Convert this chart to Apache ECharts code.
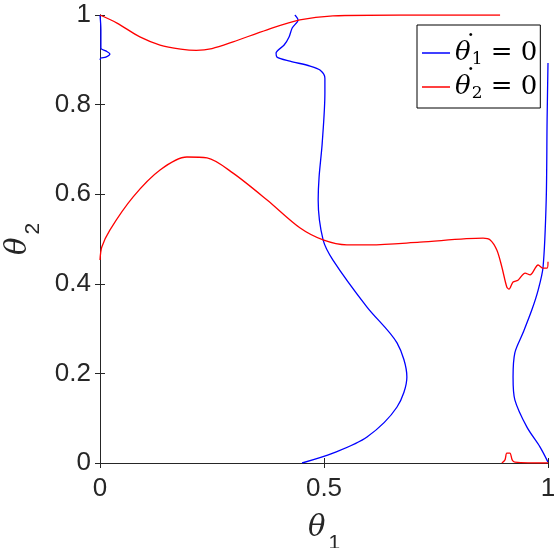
<!DOCTYPE html>
<html>
<head>
<meta charset="utf-8">
<script src="https://cdn.jsdelivr.net/npm/echarts@6/dist/echarts.min.js"></script>
<style>
  html, body { margin: 0; padding: 0; background: #fff; }
  #chart { width: 556px; height: 548px; }
</style>
</head>
<body>
<div id="chart"></div>
<script>
// nullcline curves, [theta1, theta2] pairs
var blueMain = [[0.435,1.0],[0.442,0.989],[0.429,0.971],[0.422,0.951],[0.411,0.933],[0.393,0.915],
  [0.395,0.906],[0.424,0.897],[0.469,0.886],[0.491,0.877],[0.502,0.859],[0.502,0.826],[0.496,0.714],
  [0.489,0.638],[0.487,0.587],[0.498,0.498],[0.520,0.453],[0.596,0.348],[0.663,0.268],[0.685,0.192],
  [0.663,0.125],[0.596,0.058],[0.520,0.022],[0.451,0]];
var blueRight = [[1.0,0.893],[0.998,0.766],[0.996,0.587],[0.989,0.4375],[0.978,0.386],[0.964,0.342],
  [0.944,0.290],[0.926,0.246],[0.922,0.192],[0.926,0.141],[0.953,0.080],[0.982,0.036],[1.0,0.002]];
var blueLeft = [[0,1],[0.002,0.967],[0.002,0.926],[0.013,0.92],[0.022,0.913],[0.013,0.906],[0.002,0.904],[0,0.9]];

var redTop = [[0,1],[0.038,0.982],[0.089,0.951],[0.134,0.933],[0.180,0.924],[0.215,0.921],[0.250,0.925],[0.297,0.940],
  [0.373,0.967],[0.446,0.989],[0.520,0.998],[0.670,1.0],[0.893,1.0]];
var redMain = [[0,0.453],[0.004,0.482],[0.022,0.520],[0.074,0.594],[0.134,0.654],[0.194,0.683],[0.239,0.681],
  [0.297,0.647],[0.373,0.587],[0.446,0.525],[0.498,0.498],[0.551,0.487],[0.603,0.487],[0.714,0.493],
  [0.855,0.502],[0.871,0.498],[0.886,0.475],[0.897,0.4375],[0.908,0.393],[0.913,0.388],[0.922,0.404],
  [0.933,0.408],[0.949,0.424],[0.960,0.420],[0.978,0.442],[0.989,0.435],[0.998,0.435],[1.0,0.449]];
var redBottom = [[0.897,0],[0.904,0.007],[0.908,0.022],[0.915,0.022],[0.920,0.007],[0.926,0.002],[1.0,0]];

var names = ['{t|θ}{d|˙}{s|1}{e| = 0}', '{t|θ}{d|˙}{s|2}{e| = 0}'];
var axisColor = '#262626';

function curve(name, color, data) {
  return {
    name: name, type: 'line', data: data, symbol: 'none', smooth: 0.3,
    lineStyle: { color: color, width: 1.3 }, itemStyle: { color: color },
    clip: true, animation: false
  };
}

var frameAxis = {
  type: 'value', min: 0, max: 1,
  axisLine: { show: true, lineStyle: { color: axisColor, width: 1 } },
  axisTick: { show: true, inside: true, length: 5, lineStyle: { color: axisColor } },
  splitLine: { show: false }
};

var nameRich = {
  t: { fontFamily: 'DejaVu Serif', fontStyle: 'italic', fontSize: 29, color: axisColor },
  s: { fontFamily: 'Liberation Sans', fontSize: 21, color: axisColor, padding: [30, 0, 0, 3] }
};

var chart = echarts.init(document.getElementById('chart'));
chart.setOption({
  animation: false,
  grid: { left: 100, top: 15, right: 8, bottom: 85, outerBoundsMode: 'none', containLabel: false },
  xAxis: [
    Object.assign({}, frameAxis, {
      position: 'bottom', interval: 0.5,
      axisLabel: { color: axisColor, fontSize: 26, fontFamily: 'Liberation Sans', margin: 13 },
      name: '{t|θ}{s|1}', nameLocation: 'middle', nameGap: 40,
      nameTextStyle: { rich: nameRich }
    }),
    Object.assign({}, frameAxis, { position: 'top', interval: 0.5, axisLabel: { show: false } })
  ],
  yAxis: [
    Object.assign({}, frameAxis, {
      position: 'left', interval: 0.2,
      axisLabel: { color: axisColor, fontSize: 26, fontFamily: 'Liberation Sans', margin: 9 },
      name: '{t|θ}{s|2}', nameLocation: 'middle', nameGap: 52, nameRotate: 90,
      nameTextStyle: { rich: nameRich }
    }),
    Object.assign({}, frameAxis, { position: 'right', interval: 0.2, axisLabel: { show: false } })
  ],
  legend: {
    data: names, orient: 'vertical', left: 417, top: 25,
    icon: 'rect', itemWidth: 28, itemHeight: 1.5,
    backgroundColor: '#fff', borderColor: '#000', borderWidth: 1,
    padding: [8, 3, 1, 5], itemGap: -6,
    textStyle: { rich: {
      t: { fontFamily: 'DejaVu Serif', fontStyle: 'italic', fontSize: 26, lineHeight: 28, color: '#000' },
      d: { fontFamily: 'DejaVu Serif', fontSize: 26, color: '#000', width: 0, align: 'right',
           lineHeight: 10, padding: [0, 0, 14, 0] },
      s: { fontFamily: 'DejaVu Serif', fontSize: 17, lineHeight: 14, color: '#000', padding: [14, 0, 0, 1] },
      e: { fontFamily: 'DejaVu Serif', fontSize: 26, lineHeight: 28, color: '#000' }
    } }
  },
  series: [
    curve(names[0], '#0000ff', blueMain),
    curve(names[0], '#0000ff', blueRight),
    curve(names[0], '#0000ff', blueLeft),
    curve(names[1], '#ff0000', redTop),
    curve(names[1], '#ff0000', redMain),
    curve(names[1], '#ff0000', redBottom)
  ]
});
</script>
</body>
</html>
